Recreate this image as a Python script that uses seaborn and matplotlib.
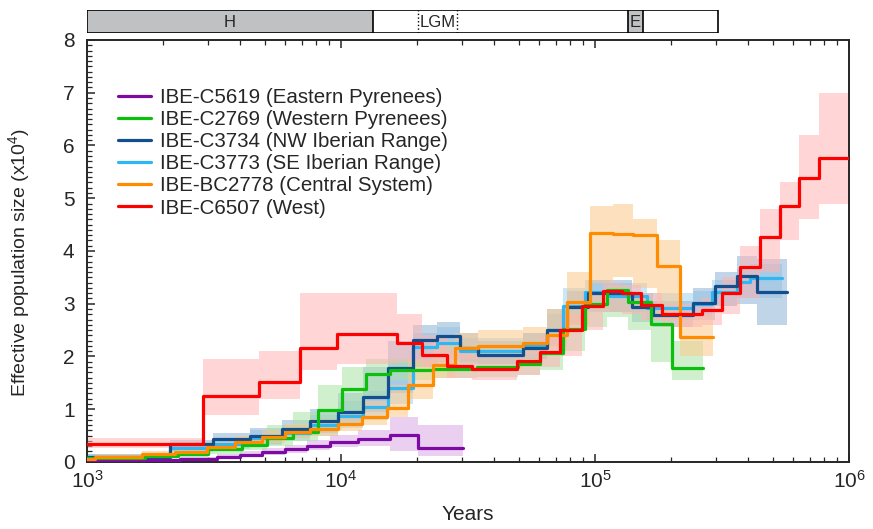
import matplotlib
matplotlib.use("Agg")
import matplotlib.pyplot as plt
from matplotlib.ticker import LogLocator, MultipleLocator, NullFormatter
import seaborn as sns
import pandas as pd

# PSMC step values: edges (years, last one closes the final step), Ne (x10^4),
# and the bootstrap envelope (lo / hi per step)
labels = ["IBE-C5619 (Eastern Pyrenees)", "IBE-C2769 (Western Pyrenees)",
          "IBE-C3734 (NW Iberian Range)", "IBE-C3773 (SE Iberian Range)",
          "IBE-BC2778 (Central System)", "IBE-C6507 (West)"]

t_purple = [1000, 1477, 2323, 3249, 4003, 4887, 6018, 7347, 9050, 11670, 15590, 20100, 30230]
ne_purple = [0.02, 0.03, 0.06, 0.10, 0.14, 0.19, 0.24, 0.30, 0.38, 0.44, 0.51, 0.26]
lo_purple = [0.00, 0.01, 0.03, 0.06, 0.09, 0.13, 0.17, 0.22, 0.28, 0.30, 0.20, 0.12]
hi_purple = [0.04, 0.06, 0.10, 0.15, 0.20, 0.26, 0.33, 0.42, 0.52, 0.60, 0.85, 0.70]

t_green = [1000, 1690, 2280, 3000, 4080, 5110, 6470, 8120, 10090, 12540, 15590, 23030,
           34310, 49770, 60730, 74820, 91340, 111500, 134900, 166200, 200900, 266000]
ne_green = [0.08, 0.11, 0.16, 0.24, 0.33, 0.45, 0.57, 0.99, 1.38, 1.67, 1.74, 1.77,
            1.80, 1.86, 2.06, 2.52, 3.00, 3.26, 3.04, 2.62, 1.78]
lo_green = [0.05, 0.07, 0.10, 0.15, 0.22, 0.30, 0.40, 0.60, 0.95, 1.25, 1.55, 1.60,
            1.62, 1.65, 1.75, 2.10, 2.55, 2.75, 2.50, 1.90, 1.55]
hi_green = [0.12, 0.16, 0.25, 0.35, 0.50, 0.70, 0.95, 1.45, 1.80, 1.95, 1.95, 1.95,
            1.98, 2.05, 2.30, 2.80, 3.20, 3.35, 3.20, 2.95, 2.30]

t_navy = [1000, 2120, 3130, 4380, 5860, 7550, 9730, 12200, 15310, 19200, 23880, 29420,
          34620, 52060, 64710, 77590, 93850, 139900, 169200, 243100, 296800, 362200,
          434300, 570000]
ne_navy = [0.09, 0.35, 0.44, 0.50, 0.62, 0.77, 0.94, 1.23, 1.78, 2.31, 2.39, 2.16,
           2.03, 2.16, 2.50, 2.94, 3.20, 2.94, 2.79, 3.01, 3.34, 3.53, 3.22]
lo_navy = [0.05, 0.20, 0.30, 0.35, 0.45, 0.55, 0.70, 0.95, 1.30, 1.80, 1.95, 1.90,
           1.85, 1.95, 2.20, 2.60, 2.85, 2.65, 2.55, 2.70, 2.95, 3.00, 2.60]
hi_navy = [0.15, 0.42, 0.55, 0.65, 0.80, 1.00, 1.30, 1.80, 2.30, 2.60, 2.65, 2.45,
           2.30, 2.45, 2.90, 3.25, 3.45, 3.20, 3.05, 3.30, 3.60, 3.90, 3.85]

t_sky = [1000, 2120, 3130, 4380, 5860, 7550, 9730, 12200, 15310, 19200, 23880, 29420,
         52060, 64710, 74820, 91340, 114600, 160200, 243100, 288800, 362200, 407600, 544700]
ne_sky = [0.10, 0.27, 0.35, 0.45, 0.55, 0.70, 0.88, 1.05, 1.40, 2.18, 2.26, 2.10,
          2.22, 2.50, 2.95, 3.22, 3.15, 2.92, 3.00, 3.22, 3.41, 3.49]
lo_sky = [0.05, 0.18, 0.25, 0.32, 0.40, 0.50, 0.65, 0.80, 1.10, 1.80, 1.90, 1.85,
          1.95, 2.20, 2.65, 2.90, 2.85, 2.70, 2.75, 2.95, 3.10, 3.10]
hi_sky = [0.15, 0.35, 0.45, 0.60, 0.70, 0.90, 1.15, 1.35, 1.90, 2.45, 2.55, 2.35,
          2.45, 2.80, 3.30, 3.45, 3.40, 3.20, 3.25, 3.45, 3.65, 3.75]

t_orange = [1000, 1075, 1646, 2221, 2968, 3825, 4887, 6018, 7551, 9731, 12095, 15180,
            18350, 23030, 28110, 34620, 52060, 64710, 77590, 95560, 117700, 141200,
            175400, 216000, 291500]
ne_orange = [0.05, 0.10, 0.15, 0.19, 0.28, 0.37, 0.47, 0.56, 0.62, 0.72, 0.85, 1.02,
             1.45, 1.84, 2.16, 2.20, 2.25, 2.40, 3.03, 4.34, 4.32, 4.30, 3.72, 2.37]
lo_orange = [0.02, 0.05, 0.10, 0.14, 0.20, 0.28, 0.36, 0.45, 0.50, 0.58, 0.70, 0.85,
             1.20, 1.60, 1.95, 2.00, 2.05, 2.15, 2.60, 3.40, 3.50, 3.30, 2.70, 2.00]
hi_orange = [0.08, 0.15, 0.20, 0.26, 0.38, 0.50, 0.60, 0.72, 0.82, 0.95, 1.15, 1.45,
             1.95, 2.30, 2.45, 2.50, 2.55, 2.90, 3.60, 4.85, 4.90, 4.60, 4.20, 2.80]

t_red = [1000, 2860, 4760, 6900, 9650, 16600, 20800, 26100, 32800, 49300, 60700, 72800,
         88900, 107500, 127700, 151800, 183600, 263800, 316200, 372300, 446200, 534900,
         635500, 761800, 990000]
ne_red = [0.34, 1.25, 1.52, 2.16, 2.43, 2.26, 2.03, 1.82, 1.77, 1.92, 2.09, 2.50,
          2.95, 3.25, 3.20, 2.98, 2.80, 2.88, 3.20, 3.70, 4.27, 4.85, 5.38, 5.76]
lo_red = [0.27, 0.90, 1.20, 1.75, 1.85, 1.90, 1.80, 1.60, 1.55, 1.65, 1.80, 2.00,
          2.50, 2.85, 2.80, 2.70, 2.55, 2.60, 2.80, 3.10, 3.60, 4.20, 4.60, 4.90]
hi_red = [0.45, 1.95, 2.10, 3.20, 3.20, 2.80, 2.40, 2.10, 2.00, 2.10, 2.40, 2.80,
          3.20, 3.40, 3.35, 3.20, 3.00, 3.10, 3.50, 4.10, 4.80, 5.30, 6.20, 7.00]

# climate periods in the bar above the plot
period_names = ["H", "LGM", "E"]
period_start = [1000, 20100, 135000]
period_end = [13360, 28600, 154000]
bar_end = 305000

series = [
    # label idx, t, ne, lo, hi, line colour, band colour
    (3, t_sky, ne_sky, lo_sky, hi_sky, "#2db7f3", "#9fd4ef"),
    (2, t_navy, ne_navy, lo_navy, hi_navy, "#124f8c", "#8fb3d6"),
    (0, t_purple, ne_purple, lo_purple, hi_purple, "#7d0aa3", "#d9a9e6"),
    (1, t_green, ne_green, lo_green, hi_green, "#0cbf0c", "#a9e2a4"),
    (4, t_orange, ne_orange, lo_orange, hi_orange, "#ff8c00", "#fdc98c"),
    (5, t_red, ne_red, lo_red, hi_red, "#ff0000", "#ffb4b4"),
]

sns.set_style("ticks")
plt.rcParams["font.family"] = ["Liberation Sans", "DejaVu Sans"]
plt.rcParams["mathtext.fontset"] = "custom"
plt.rcParams["mathtext.rm"] = "Liberation Sans"
plt.rcParams["mathtext.it"] = "Liberation Sans:italic"

fig = plt.figure(figsize=(8.73, 5.29), dpi=100)
ax = fig.add_axes([0.0997, 0.1267, 0.8728, 0.7977])

# bootstrap envelopes first
for i, t, ne, lo, hi, col, band in series:
    ax.fill_between(t, lo + [lo[-1]], hi + [hi[-1]], step="post",
                    color=band, alpha=0.55, lw=0, zorder=1)

for i, t, ne, lo, hi, col, band in series:
    df = pd.DataFrame({"Years": t, "Ne": ne + [ne[-1]]})
    sns.lineplot(data=df, x="Years", y="Ne", ax=ax, color=col, lw=2.3,
                 drawstyle="steps-post", estimator=None, sort=False,
                 label=labels[i], zorder=3)

ax.set_xscale("log")
ax.set_xlim(1e3, 1e6)
ax.set_ylim(0, 8)
ax.yaxis.set_major_locator(MultipleLocator(1))
ax.yaxis.set_minor_locator(MultipleLocator(0.1))
ax.xaxis.set_minor_locator(LogLocator(base=10, subs=range(2, 10)))
ax.xaxis.set_minor_formatter(NullFormatter())
ax.tick_params(axis="both", which="both", direction="in", labelsize=15)
ax.tick_params(axis="x", which="both", top=True, pad=6)
ax.tick_params(axis="y", which="both", pad=9)
ax.tick_params(which="major", length=6, width=1.1)
ax.tick_params(which="minor", length=3.5, width=0.9)
for s in ax.spines.values():
    s.set_linewidth(1.4)
ax.set_xlabel("Years", fontsize=15, labelpad=9)
ax.set_ylabel("Effective population size (x10$^4$)", fontsize=14)
ax.yaxis.set_label_coords(-0.072, 0.474)

h, l = ax.get_legend_handles_labels()
order = [l.index(name) for name in labels]
ax.legend([h[k] for k in order], [l[k] for k in order], loc="upper left",
          bbox_to_anchor=(0.022, 0.92), frameon=False, fontsize=14.8,
          handlelength=1.6, handletextpad=0.45, labelspacing=0.15,
          borderaxespad=0.3)

# period bar
axb = fig.add_axes([0.0997, 0.9376, 0.8728, 0.0435])
axb.set_xscale("log")
axb.set_xlim(1e3, 1e6)
axb.set_ylim(0, 1)
axb.axis("off")
axb.axvspan(1000, bar_end, 0, 1, facecolor="white", edgecolor="black", lw=1.2)
axb.axvspan(period_start[0], period_end[0], 0, 1, facecolor="#c0c1c3", edgecolor="black", lw=1.2)
axb.axvspan(period_start[2], period_end[2], 0, 1, facecolor="#c0c1c3", edgecolor="black", lw=1.2)
for x in (period_start[1], period_end[1]):
    axb.axvline(x, color="black", lw=1.0, ls=":")
for name, a, b in zip(period_names, period_start, period_end):
    axb.text((a * b) ** 0.5, 0.45, name, ha="center", va="center", fontsize=12,
             family=["Liberation Sans Narrow", "Liberation Sans"])

fig.savefig("out.png", dpi=100)
